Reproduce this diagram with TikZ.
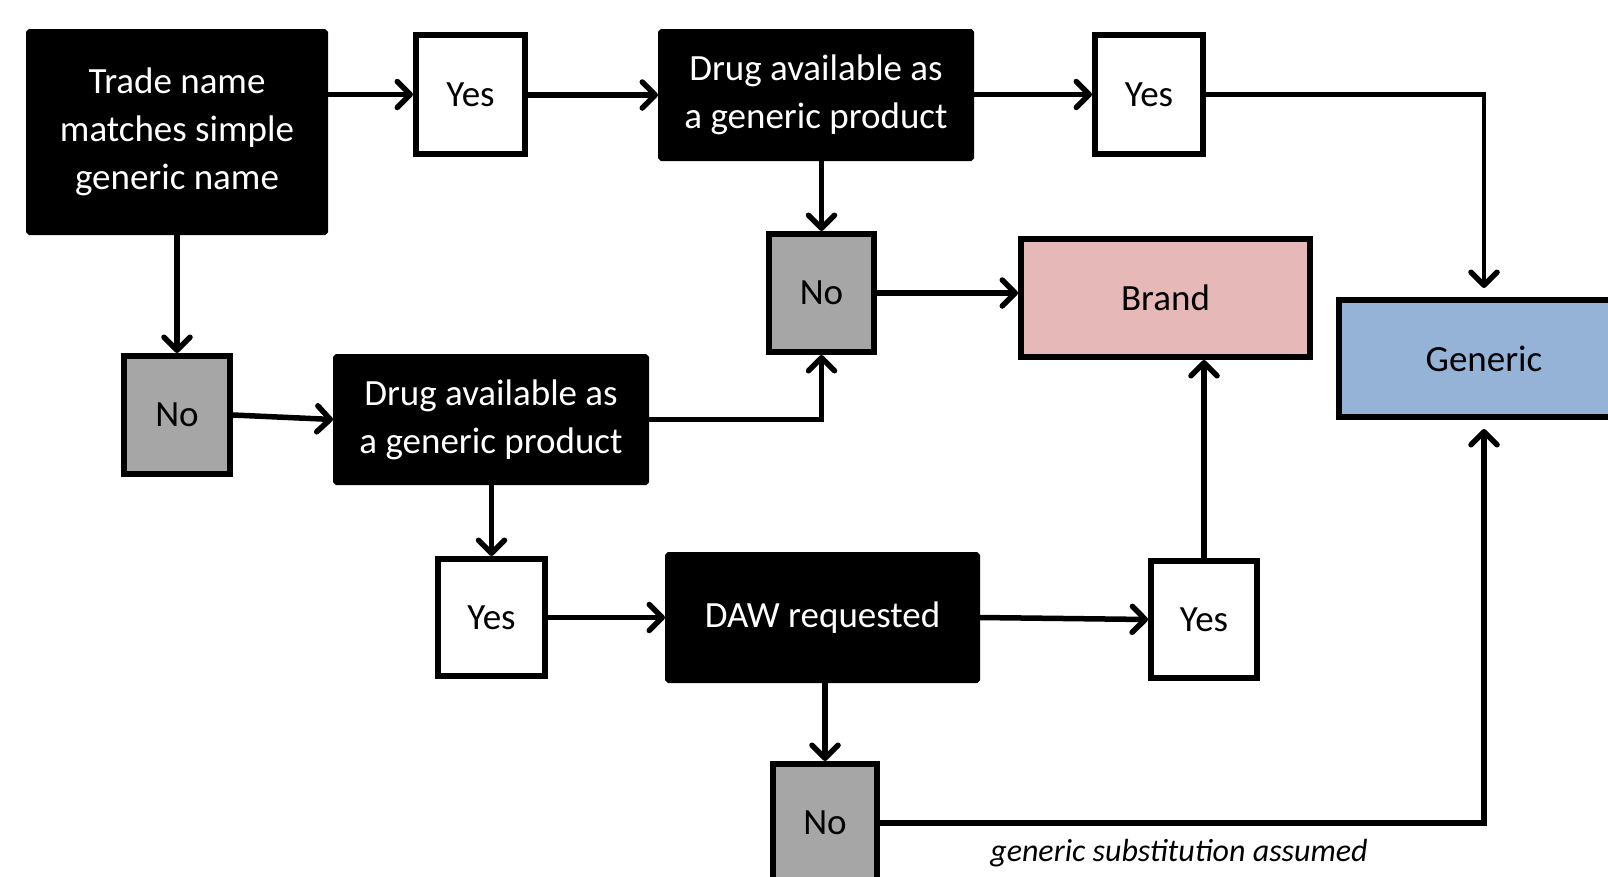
\documentclass[tikz,border=0pt]{standalone}
\usepackage{fontspec}
\setmainfont{Carlito}
\usetikzlibrary{arrows.meta}
\definecolor{nogray}{HTML}{A6A6A6}
\definecolor{brandpink}{HTML}{E6B9B8}
\definecolor{genblue}{HTML}{95B3D7}
\begin{document}
\begin{tikzpicture}[x=1pt,y=-1pt,
  base/.style={rectangle,line width=6pt,inner sep=0pt,align=center,
    font=\fontsize{37}{48}\selectfont},
  decision/.style={base,fill=black,draw=black,text=white,rounded corners=1pt},
  yesbox/.style={base,fill=white,draw=black},
  nobox/.style={base,fill=nogray,draw=black},
  arr/.style={line width=5.5pt,-{Straight Barb[length=13pt,width=26pt,line width=5.5pt,round]}},
  ln/.style={line width=5.5pt}]
\useasboundingbox (0,0) rectangle (1608,876);
\clip (0,0) rectangle (1608,876);

\node[decision,minimum width=296pt,minimum height=200pt] (trade) at (177,132) {Trade name\\matches simple\\generic name};
\node[yesbox,minimum width=109pt,minimum height=119pt] (yes1) at (470.5,94.5) {Yes};
\node[decision,minimum width=310pt,minimum height=126pt] (drug1) at (816,95) {Drug available as\\a generic product};
\node[yesbox,minimum width=108pt,minimum height=119pt] (yes2) at (1149,94.5) {Yes};
\node[nobox,minimum width=105pt,minimum height=118pt] (nom) at (821.5,293) {No};
\node[base,fill=brandpink,draw=black,minimum width=289pt,minimum height=118pt] (brand) at (1165.5,298) {Brand};
\node[base,fill=genblue,draw=black,minimum width=290pt,minimum height=117pt] (generic) at (1484,358.5) {Generic};
\node[nobox,minimum width=106pt,minimum height=118pt] (nol) at (177,415) {No};
\node[decision,minimum width=310pt,minimum height=125pt] (drug2) at (491,419.5) {Drug available as\\a generic product};
\node[yesbox,minimum width=107pt,minimum height=117pt] (yes3) at (491.5,617.5) {Yes};
\node[decision,minimum width=309pt,minimum height=125pt] (daw) at (822.5,617.5) {DAW requested};
\node[yesbox,minimum width=106pt,minimum height=117pt] (yes4) at (1204,619.5) {Yes};
\node[nobox,minimum width=104pt,minimum height=118pt] (nob) at (825,823) {No};

\node[font=\fontsize{32}{38}\selectfont\itshape,anchor=center] (subst) at (1179,853) {generic substitution assumed};

\draw[arr] (trade.east |- yes1) -- (yes1.west);
\draw[arr] (yes1.east |- drug1) -- (drug1.west);
\draw[arr] (drug1.east |- yes2) -- (yes2.west);
\draw[arr,line width=4.5pt,shorten >=9pt] (yes2.east) -| (generic.north);
\draw[arr] (drug1.south -| nom) -- (nom.north);
\draw[arr] (nom.east) -- (nom.east -| brand.west);
\draw[arr] (trade.south) -- (nol.north);
\draw[arr] (nol.east) -- (drug2.west);
\draw[arr] (drug2.east) -| (nom.south);
\draw[arr] (drug2.south -| yes3) -- (yes3.north);
\draw[arr] (yes3.east) -- (daw.west);
\draw[arr] (daw.east) -- (yes4.west);
\draw[arr] (yes4.north) -- (yes4.north |- brand.south);
\draw[arr] (daw.south -| nob) -- (nob.north);
\draw[arr,shorten >=9pt] (nob.east) -| (generic.south);
\end{tikzpicture}
\end{document}
